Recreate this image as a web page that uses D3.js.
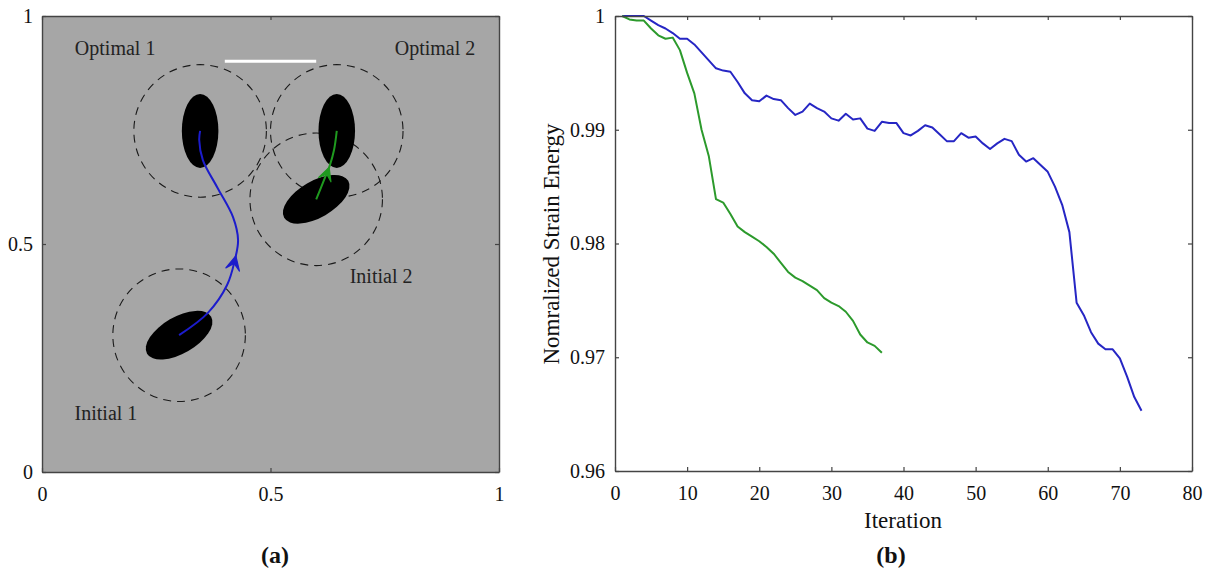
<html>
<head>
<script src="https://d3js.org/d3.v7.min.js"></script>
<style>
  body { margin: 0; background: #fff; }
  text { font-family: "Liberation Serif", "Times New Roman", serif; }
</style>
</head>
<body>
<div id="chart"></div>
<script>
// ---- panel (a): particle positions in the unit square ----
const zoneCircles = [[0.346, 0.748], [0.645, 0.748], [0.600, 0.598], [0.300, 0.300]];
const zoneRadius = 0.145;
// cx, cy, semi-major, semi-minor, tilt (deg)
const inclusions = [
  [0.346, 0.748, 0.081, 0.040, 90],
  [0.645, 0.748, 0.081, 0.040, 90],
  [0.600, 0.598, 0.081, 0.040, 30],
  [0.300, 0.300, 0.081, 0.040, 30]
];
const path1 = [[0.300, 0.300], [0.363, 0.349], [0.405, 0.410], [0.422, 0.465], [0.429, 0.509],
               [0.418, 0.559], [0.383, 0.625], [0.352, 0.684], [0.344, 0.728], [0.346, 0.748]];
const path2 = [[0.600, 0.598], [0.617, 0.640], [0.630, 0.673], [0.639, 0.706], [0.645, 0.748]];
const scaleBar = [[0.40, 0.901], [0.60, 0.901]];
const regionLabels = [["Optimal 1", 0.160, 0.915], ["Optimal 2", 0.860, 0.915],
                      ["Initial 2", 0.742, 0.415], ["Initial 1", 0.140, 0.115]];
const unitTicks = [0, 0.5, 1];

// ---- panel (b): normalized strain energy history ----
const blueEnergy = [1.0000, 1.0000, 1.0000, 1.0000, 0.9996, 0.9992, 0.9989, 0.9985, 0.9980, 0.9980,
  0.9975, 0.9968, 0.9961, 0.9954, 0.9952, 0.9951, 0.9942, 0.9932, 0.9926, 0.9925,
  0.9930, 0.9927, 0.9926, 0.9919, 0.9913, 0.9916, 0.9923, 0.9919, 0.9916, 0.9910,
  0.9908, 0.9914, 0.9909, 0.9910, 0.9901, 0.9899, 0.9907, 0.9906, 0.9906, 0.9897,
  0.9895, 0.9899, 0.9904, 0.9902, 0.9896, 0.9890, 0.9890, 0.9897, 0.9893, 0.9894,
  0.9888, 0.9883, 0.9888, 0.9892, 0.9890, 0.9878, 0.9872, 0.9875, 0.9869, 0.9863,
  0.9850, 0.9834, 0.9810, 0.9748, 0.9737, 0.9722, 0.9712, 0.9707, 0.9707, 0.9699,
  0.9683, 0.9665, 0.9653];
const greenEnergy = [1.0000, 0.9997, 0.9996, 0.9996, 0.9989, 0.9983, 0.9980, 0.9981, 0.9970, 0.9950,
  0.9932, 0.9900, 0.9877, 0.9839, 0.9836, 0.9826, 0.9815, 0.9810, 0.9806, 0.9802,
  0.9797, 0.9791, 0.9783, 0.9775, 0.9770, 0.9767, 0.9763, 0.9759, 0.9752, 0.9748,
  0.9745, 0.9740, 0.9732, 0.9720, 0.9713, 0.9710, 0.9704];
const iterTicks = [0, 10, 20, 30, 40, 50, 60, 70, 80];
const energyTicks = [0.96, 0.97, 0.98, 0.99, 1];

const BLUE = "#2626c4", GREEN = "#2c9a2c", AXIS = "#444";

const svg = d3.select("#chart").append("svg")
  .attr("width", 1215).attr("height", 575);

function styleAxis(g) {
  g.select(".domain").attr("stroke", AXIS).attr("stroke-width", 1.4);
  g.selectAll(".tick line").attr("stroke", AXIS).attr("stroke-width", 1.2);
  g.selectAll("text").attr("font-family", "Liberation Serif").attr("font-size", 20).attr("fill", "#111");
  g.attr("font-family", null).attr("font-size", null);
}

// ================= panel (a) =================
const xa = d3.scaleLinear().domain([0, 1]).range([42, 499]);
const ya = d3.scaleLinear().domain([0, 1]).range([472, 16]);
const ga = svg.append("g");

ga.append("rect")
  .attr("x", xa(0)).attr("y", ya(1))
  .attr("width", xa(1) - xa(0)).attr("height", ya(0) - ya(1))
  .attr("fill", "#a6a6a6");

ga.selectAll("circle.zone").data(zoneCircles).enter().append("circle")
  .attr("class", "zone")
  .attr("cx", d => xa(d[0])).attr("cy", d => ya(d[1]))
  .attr("r", xa(zoneRadius) - xa(0))
  .attr("fill", "none").attr("stroke", "#1a1a1a").attr("stroke-width", 1.1)
  .attr("stroke-dasharray", "8,6");

ga.selectAll("ellipse").data(inclusions).enter().append("ellipse")
  .attr("cx", 0).attr("cy", 0)
  .attr("rx", d => xa(d[2]) - xa(0)).attr("ry", d => xa(d[3]) - xa(0))
  .attr("transform", d => `translate(${xa(d[0])},${ya(d[1])}) rotate(${-d[4]})`)
  .attr("fill", "#000");

ga.append("line")
  .attr("x1", xa(scaleBar[0][0])).attr("y1", ya(scaleBar[0][1]))
  .attr("x2", xa(scaleBar[1][0])).attr("y2", ya(scaleBar[1][1]))
  .attr("stroke", "#fff").attr("stroke-width", 3);

const curve = d3.line().x(d => xa(d[0])).y(d => ya(d[1])).curve(d3.curveCatmullRom.alpha(0.5));

function trajectory(pts, color, frac, size) {
  const p = ga.append("path").attr("d", curve(pts))
    .attr("fill", "none").attr("stroke", color).attr("stroke-width", 2);
  const node = p.node(), L = node.getTotalLength();
  const a = node.getPointAtLength(L * frac), b = node.getPointAtLength(L * frac + 2);
  const ang = Math.atan2(b.y - a.y, b.x - a.x) * 180 / Math.PI;
  ga.append("path")
    .attr("d", `M0,0 L${-size},${-size * 0.5} L${-size * 0.55},0 L${-size},${size * 0.5} Z`)
    .attr("transform", `translate(${a.x},${a.y}) rotate(${ang})`)
    .attr("fill", color).attr("stroke", color).attr("stroke-width", 1.2).attr("stroke-linejoin", "round");
}
trajectory(path1, "#1c1ccc", 0.43, 14);
trajectory(path2, "#1f9a1f", 0.48, 13);

ga.selectAll("text.region").data(regionLabels).enter().append("text")
  .attr("class", "region")
  .attr("x", d => xa(d[1])).attr("y", d => ya(d[2]))
  .attr("text-anchor", "middle").attr("font-size", 20).attr("fill", "#222")
  .text(d => d[0]);

ga.append("g").attr("transform", `translate(0,${ya(0)})`)
  .call(d3.axisBottom(xa).tickValues(unitTicks).tickFormat(d3.format("")).tickSizeInner(-4).tickSizeOuter(0).tickPadding(15))
  .call(styleAxis);
ga.append("g").attr("transform", `translate(0,${ya(1)})`)
  .call(d3.axisTop(xa).tickValues(unitTicks).tickFormat("").tickSizeInner(-4).tickSizeOuter(0))
  .call(styleAxis);
ga.append("g").attr("transform", `translate(${xa(0)},0)`)
  .call(d3.axisLeft(ya).tickValues(unitTicks).tickFormat(d3.format("")).tickSizeInner(-4).tickSizeOuter(0).tickPadding(9))
  .call(styleAxis);
ga.append("g").attr("transform", `translate(${xa(1)},0)`)
  .call(d3.axisRight(ya).tickValues(unitTicks).tickFormat("").tickSizeInner(-4).tickSizeOuter(0))
  .call(styleAxis);

ga.append("text").attr("x", 275).attr("y", 563)
  .attr("text-anchor", "middle").attr("font-size", 24).attr("font-weight", "bold").attr("fill", "#111")
  .text("(a)");

// ================= panel (b) =================
const xb = d3.scaleLinear().domain([0, 80]).range([615, 1192]);
const yb = d3.scaleLinear().domain([0.96, 1]).range([471, 16]);
const gb = svg.append("g");

const energyLine = d3.line().x((d, i) => xb(i + 1)).y(d => yb(d));
gb.append("path").attr("d", energyLine(blueEnergy))
  .attr("fill", "none").attr("stroke", BLUE).attr("stroke-width", 2).attr("stroke-linejoin", "round");
gb.append("path").attr("d", energyLine(greenEnergy))
  .attr("fill", "none").attr("stroke", GREEN).attr("stroke-width", 2).attr("stroke-linejoin", "round");

const fmtE = d => String(+d.toFixed(2));
gb.append("g").attr("transform", `translate(0,${yb(0.96)})`)
  .call(d3.axisBottom(xb).tickValues(iterTicks).tickFormat(d3.format("")).tickSizeInner(-4).tickSizeOuter(0).tickPadding(15))
  .call(styleAxis);
gb.append("g").attr("transform", `translate(0,${yb(1)})`)
  .call(d3.axisTop(xb).tickValues(iterTicks).tickFormat("").tickSizeInner(-4).tickSizeOuter(0))
  .call(styleAxis);
gb.append("g").attr("transform", `translate(${xb(0)},0)`)
  .call(d3.axisLeft(yb).tickValues(energyTicks).tickFormat(fmtE).tickSizeInner(-4).tickSizeOuter(0).tickPadding(10))
  .call(styleAxis);
gb.append("g").attr("transform", `translate(${xb(80)},0)`)
  .call(d3.axisRight(yb).tickValues(energyTicks).tickFormat("").tickSizeInner(-4).tickSizeOuter(0))
  .call(styleAxis);

gb.append("text").attr("x", 903).attr("y", 528)
  .attr("text-anchor", "middle").attr("font-size", 23).attr("fill", "#111")
  .text("Iteration");
gb.append("text").attr("transform", "translate(559,244) rotate(-90)")
  .attr("text-anchor", "middle").attr("font-size", 23).attr("fill", "#111")
  .text("Nomralized Strain Energy");
gb.append("text").attr("x", 891).attr("y", 563)
  .attr("text-anchor", "middle").attr("font-size", 24).attr("font-weight", "bold").attr("fill", "#111")
  .text("(b)");
</script>
</body>
</html>
